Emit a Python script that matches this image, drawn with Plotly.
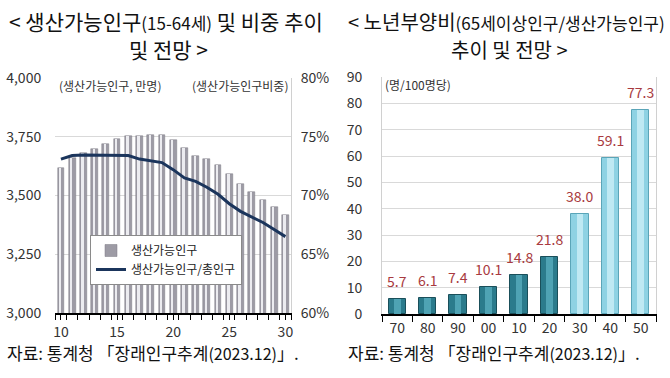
import plotly.graph_objects as go

# ---------------- data ----------------
years = list(range(2010, 2031))
working_pop = [3619, 3660, 3683, 3699, 3720, 3742, 3754, 3754, 3758, 3757,
               3737, 3702, 3670, 3654, 3631, 3590, 3549, 3517, 3480, 3449, 3419]
working_share = [73.1, 73.4, 73.45, 73.45, 73.45, 73.45, 73.4, 73.1, 72.95, 72.8,
                 72.2, 71.5, 71.2, 70.7, 70.1, 69.3, 68.65, 68.2, 67.7, 67.1, 66.5]
left_ticks = [2010, 2015, 2020, 2025, 2030]
left_ticktext = ["10", "15", "20", "25", "30"]

dep_cats = ["70", "80", "90", "00", "10", "20", "30", "40", "50"]
dep_vals = [5.7, 6.1, 7.4, 10.1, 14.8, 21.8, 38.0, 59.1, 77.3]
dep_labels = ["5.7", "6.1", "7.4", "10.1", "14.8", "21.8", "38.0", "59.1", "77.3"]
dep_projected = [False, False, False, False, False, False, True, True, True]

KR = "Noto Sans CJK KR"
W, H = 670, 378

def px_x(x):
    return x / W

def px_y(y):
    return 1 - y / H

fig = go.Figure()

# ---------------- left chart ----------------
fig.add_trace(go.Bar(
    x=years, y=working_pop, name="생산가능인구",
    marker=dict(color="#9d9ba5", line=dict(color="#7d7b85", width=0.5)),
    width=0.6, offset=-0.3, xaxis="x", yaxis="y", showlegend=True,
))
fig.add_trace(go.Bar(
    x=years, y=working_pop, name="hl",
    marker=dict(color="#ececf0", line=dict(width=0)),
    width=0.2, offset=-0.18, xaxis="x", yaxis="y", showlegend=False, hoverinfo="skip",
))
fig.add_trace(go.Scatter(
    x=years, y=working_share, name="생산가능인구/총인구", mode="lines",
    line=dict(color="#1b355c", width=3), xaxis="x", yaxis="y2",
))

# ---------------- right chart ----------------
idx = list(range(len(dep_cats)))
dark_base = ["#8ed2e3" if p else "#2b7b8c" for p in dep_projected]
dark_edge = ["#5aa5b8" if p else "#1a4f5a" for p in dep_projected]
hl_col = ["#bfe9f3" if p else "#4fa3b4" for p in dep_projected]
fig.add_trace(go.Bar(
    x=idx, y=dep_vals, marker=dict(color=dark_base, line=dict(color=dark_edge, width=1)),
    width=0.57, xaxis="x3", yaxis="y3", showlegend=False,
))
fig.add_trace(go.Bar(
    x=idx, y=dep_vals, marker=dict(color=hl_col, line=dict(width=0)),
    width=0.22, xaxis="x3", yaxis="y3", showlegend=False, hoverinfo="skip",
))

annotations = []
for i, v, t in zip(idx, dep_vals, dep_labels):
    annotations.append(dict(x=i, y=v, xref="x3", yref="y3", text=t, showarrow=False,
                            xanchor="center", yanchor="bottom", yshift=6,
                            font=dict(family=KR, size=14, color="#a83a40")))

def txt(x, y, text, size, xanchor="center", color="#111"):
    return dict(x=px_x(x), y=px_y(y), xref="paper", yref="paper", showarrow=False,
                xanchor=xanchor, yanchor="middle", text=text,
                font=dict(family=KR, size=size, color=color))

src = "자료: 통계청 「장래인구추계<span style='font-size:16px'>(2023.12)</span>」."
annotations += [
    txt(166, 21, "< 생산가능인구<span style='font-size:17px'>(15-64세)</span> 및 비중 추이", 21),
    txt(168, 49, "및 전망 >", 21),
    txt(506, 21, "< 노년부양비<span style='font-size:17px'>(65세이상인구/생산가능인구)</span>", 20),
    txt(509, 49, "추이 및 전망 >", 20),
    txt(57, 86, "(생산가능인구, 만명)", 12, "left", "#333"),
    txt(290, 86, "(생산가능인구비중)", 12, "right", "#333"),
    txt(383, 84, "(명/100명당)", 12, "left", "#333"),
    txt(5, 352, src, 17, "left"),
    txt(346, 352, src, 17, "left"),
]

minor_vals = [y - 0.5 for y in years] + [years[-1] + 0.5]
tickfont = dict(family=KR, size=14, color="#333")

fig.update_layout(
    width=W, height=H, margin=dict(l=0, r=0, t=0, b=0, autoexpand=False),
    paper_bgcolor="white", plot_bgcolor="white",
    barmode="overlay", bargap=0,
    font=dict(family=KR),
    annotations=annotations,
    showlegend=True,
    legend=dict(x=px_x(90), y=px_y(235), xanchor="left", yanchor="top",
                bgcolor="white", bordercolor="#8a8a8a", borderwidth=1,
                font=dict(family=KR, size=12, color="#222"),
                tracegroupgap=2, itemwidth=30),
    xaxis=dict(domain=[px_x(55), px_x(291)], range=[2009.47, 2030.5],
               tickvals=left_ticks, ticktext=left_ticktext,
               ticks="outside", ticklen=5, tickcolor="#000", tickwidth=1,
               minor=dict(tickvals=minor_vals, ticks="outside", ticklen=5, tickcolor="#000"),
               showline=True, linecolor="#000", linewidth=1.5, showgrid=False,
               tickfont=tickfont, anchor="y", fixedrange=True),
    yaxis=dict(domain=[px_y(313), px_y(78)], range=[3000, 4000], dtick=250,
               tickformat=",", showgrid=True, gridcolor="#d9d9d9", gridwidth=1,
               ticks="outside", ticklen=10, tickcolor="rgba(0,0,0,0)",
               showline=False, zeroline=False, tickfont=tickfont, anchor="x"),
    yaxis2=dict(overlaying="y", side="right", range=[60, 80], dtick=5, ticksuffix="%",
                showgrid=False, ticks="outside", ticklen=6, tickcolor="rgba(0,0,0,0)",
                showline=True, linecolor="#d0d0d0", linewidth=1, zeroline=False,
                tickfont=tickfont, anchor="x"),
    xaxis3=dict(domain=[px_x(382), px_x(656)], range=[-0.5, 8.5],
                tickvals=idx, ticktext=dep_cats,
                ticks="", showline=True, linecolor="#000", linewidth=1.5, showgrid=False,
                minor=dict(tickvals=[i - 0.5 for i in idx] + [idx[-1] + 0.5],
                           ticks="outside", ticklen=6, tickcolor="#000"),
                tickfont=tickfont, anchor="y3", zeroline=False),
    yaxis3=dict(domain=[px_y(314), px_y(77)], range=[0, 90], dtick=10,
                showgrid=True, gridcolor="#d9d9d9", gridwidth=1,
                showline=True, linecolor="#d0d0d0", linewidth=1, mirror=True,
                ticks="outside", ticklen=16, tickcolor="rgba(0,0,0,0)",
                zeroline=False, tickfont=tickfont, anchor="x3"),
)

fig.write_html("out.html", config={"displayModeBar": False},
               post_script="document.body.style.margin='0';document.body.style.overflow='hidden';")
